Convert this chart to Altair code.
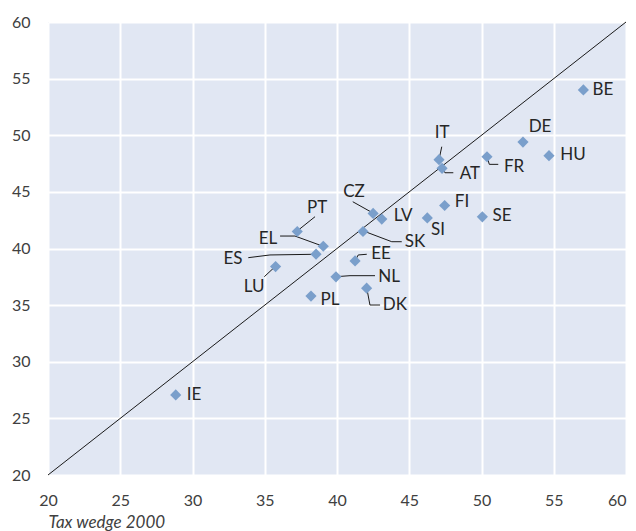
import altair as alt
import pandas as pd

codes = ["BE", "DE", "HU", "IT", "AT", "FR", "FI", "SE", "SI", "LV", "SK",
         "CZ", "PT", "EL", "ES", "LU", "EE", "NL", "DK", "PL", "IE"]
tw2000 = [57.05, 52.87, 54.67, 47.06, 47.27, 50.38, 47.45, 50.06, 46.25, 43.1, 41.8,
          42.5, 37.25, 39.05, 38.55, 35.75, 41.25, 39.93, 42.05, 38.2, 28.84]
tw_later = [54.0, 49.4, 48.2, 47.84, 47.08, 48.1, 43.8, 42.8, 42.7, 42.6, 41.5,
            43.1, 41.5, 40.2, 39.5, 38.4, 38.9, 37.5, 36.5, 35.8, 27.07]
label_x = [58.41, 54.05, 56.33, 47.27, 49.2, 52.25, 48.65, 51.42, 46.99, 44.57, 45.4,
           41.18, 38.62, 35.22, 32.8, 34.26, 43.05, 43.6, 44.01, 39.52, 30.1]
label_y = [54.0, 50.73, 48.26, 50.2, 46.58, 47.2, 44.1, 42.87, 41.63, 42.87, 40.57,
           44.99, 43.58, 40.84, 39.07, 36.6, 39.51, 37.48, 35.01, 35.45, 27.06]

leader_code = ["CZ", "CZ", "PT", "PT", "EL", "EL", "EL", "ES", "ES", "ES", "LU", "LU",
               "SK", "SK", "SK", "EE", "EE", "EE", "NL", "NL", "NL", "DK", "DK", "DK",
               "IT", "IT", "AT", "AT", "AT", "FR", "FR", "FR"]
leader_x = [41.09, 42.49, 38.48, 37.25, 36.06, 37.09, 39.05, 33.86, 35.36, 38.48, 34.97, 35.71,
            41.82, 43.79, 44.48, 41.25, 41.47, 42.06, 39.93, 40.9, 42.63, 42.06, 42.28, 42.98,
            47.25, 47.06, 47.27, 47.47, 48.05, 50.38, 50.54, 51.16]
leader_y = [44.13, 43.13, 42.81, 41.55, 41.1, 41.1, 40.19, 39.19, 39.43, 39.49, 37.51, 38.39,
            41.55, 40.6, 40.6, 38.92, 39.43, 39.49, 37.51, 37.6, 37.6, 36.51, 35.01, 35.01,
            48.99, 47.84, 47.08, 46.69, 46.69, 48.11, 47.43, 47.43]

ticks = [20, 25, 30, 35, 40, 45, 50, 55, 60]
diag = [20, 60]

pts = pd.DataFrame({"code": codes, "x": tw2000, "y": tw_later, "lx": label_x, "ly": label_y})
leaders = pd.DataFrame({"code": leader_code, "x": leader_x, "y": leader_y,
                        "seq": list(range(len(leader_x)))})
diag_df = pd.DataFrame({"x": diag, "y": diag})

FONT = "Lato"
xscale = alt.Scale(domain=[20, 60], nice=False, zero=False)
yscale = alt.Scale(domain=[20, 60], nice=False, zero=False)

xaxis = alt.Axis(values=ticks, title="Tax wedge 2000", titleAnchor="start",
                 titleFontStyle="italic", titleFontWeight="normal", titleFontSize=17,
                 titleColor="#404040", titleFont=FONT, titlePadding=6,
                 labelFontSize=16, labelColor="#404040", labelFont=FONT, labelPadding=17,
                 labelFlush=False, labelBound=False,
                 labelAlign={"condition": {"test": "datum.value >= 60", "value": "right"},
                             "value": "center"},
                 grid=True, gridColor="white", gridWidth=2,
                 domain=False, ticks=False)
yaxis = alt.Axis(values=ticks, title=None, labelFontSize=16, labelColor="#404040",
                 labelFont=FONT, labelPadding=18, labelFlush=False, grid=True,
                 gridColor="white", gridWidth=2, domain=False, ticks=False)

base_grid = alt.Chart(diag_df).mark_line(opacity=0).encode(
    x=alt.X("x:Q", scale=xscale, axis=xaxis),
    y=alt.Y("y:Q", scale=yscale, axis=yaxis),
)

diag_line = alt.Chart(diag_df).mark_line(color="#1a1a1a", strokeWidth=1).encode(
    x=alt.X("x:Q", scale=xscale), y=alt.Y("y:Q", scale=yscale))

leader_lines = alt.Chart(leaders).mark_line(color="#1a1a1a", strokeWidth=1).encode(
    x=alt.X("x:Q", scale=xscale), y=alt.Y("y:Q", scale=yscale),
    detail="code:N", order="seq:Q")

points = alt.Chart(pts).mark_point(shape="diamond", filled=True, size=125,
                                   color="#7a9fcb", opacity=1).encode(
    x=alt.X("x:Q", scale=xscale), y=alt.Y("y:Q", scale=yscale))

labels = alt.Chart(pts).mark_text(font=FONT, fontSize=17, color="#262626",
                                  align="center", baseline="middle").encode(
    x=alt.X("lx:Q", scale=xscale), y=alt.Y("ly:Q", scale=yscale), text="code:N")

chart = alt.layer(base_grid, diag_line, leader_lines, points, labels).properties(
    width=578, height=453,
    autosize=alt.AutoSizeParams(type="none"),
    padding={"left": 40, "top": 14, "right": 2, "bottom": 58},
).configure_view(fill="#e1e7f3", stroke=None)

chart.save("out.html", embed_options={"renderer": "svg", "actions": False})
